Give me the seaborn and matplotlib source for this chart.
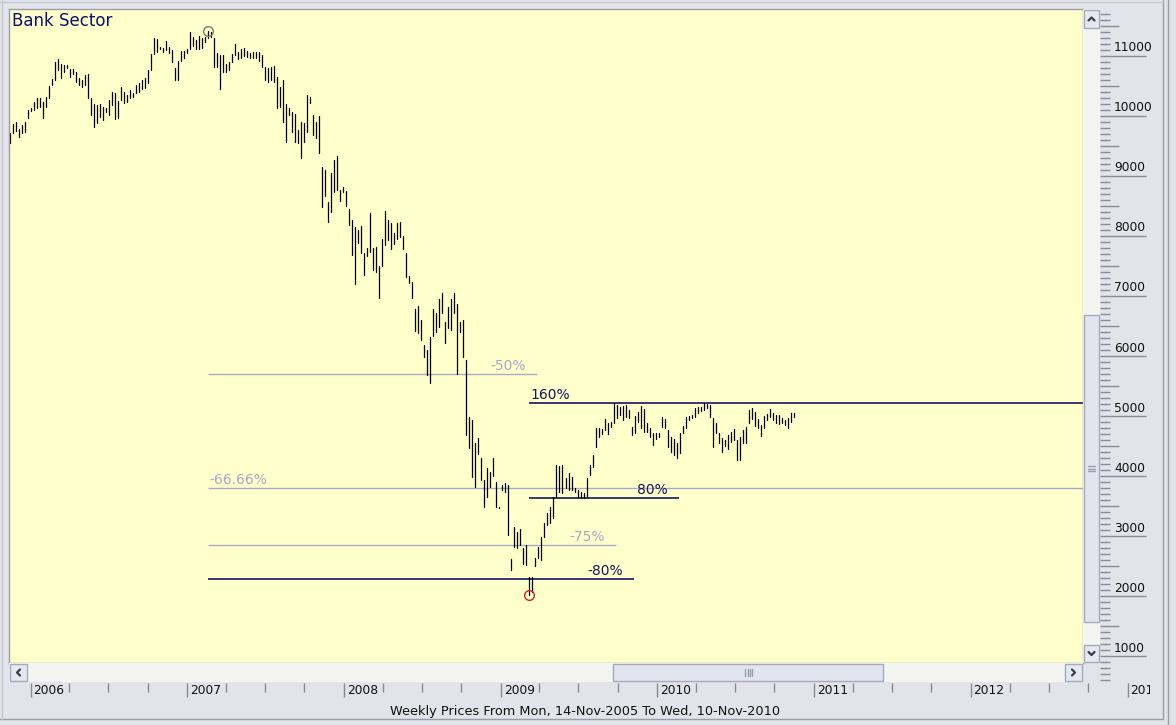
import numpy as np
import pandas as pd
import matplotlib
matplotlib.use("Agg")
import matplotlib.pyplot as plt
import matplotlib.dates as mdates
from matplotlib.patches import Rectangle
from matplotlib.lines import Line2D
import seaborn as sns

# weekly high / low of the bank sector index
highs = [
    9711, 9861, 9895, 9784, 9850, 9906, 10100, 10139, 10228, 10306,
    10306, 10239, 10323, 10500, 10617, 10895, 10950, 10861, 10850, 10850,
    10784, 10784, 10728, 10628, 10600, 10684, 10695, 10306, 10195, 10184,
    10195, 10156, 10139, 10267, 10395, 10378, 10250, 10478, 10406, 10350,
    10434, 10378, 10517, 10545, 10600, 10628, 10767, 11028, 11295, 11284,
    11156, 11139, 11250, 11156, 11100, 10795, 10917, 11084, 11084, 11117,
    11400, 11323, 11267, 11339, 11295, 11323, 11417, 11395, 11306, 11045,
    11017, 11017, 10861, 10906, 11028, 11195, 11073, 11117, 11128, 11084,
    11045, 11073, 11073, 11061, 11017, 10823, 10806, 10823, 10839, 10656,
    10489, 10600, 10195, 10139, 10073, 10028, 9767, 9895, 9878, 10350,
    10323, 10017, 9906, 10006, 9156, 9100, 8572, 9044, 9267, 9333,
    8767, 8811, 8756, 8444, 8267, 8144, 8100, 8167, 7711, 7794,
    8378, 7794, 7811, 7500, 7944, 8422, 8267, 8222, 8044, 8222,
    8239, 8000, 7711, 7333, 7239, 6778, 6833, 6600, 6183, 6100,
    6311, 6778, 6722, 6944, 7056, 6572, 6822, 6944, 7044, 6867,
    6572, 6600, 5933, 4989, 4933, 4544, 4628, 4294, 3933, 4128,
    4072, 4294, 3906, 3489, 3850, 3878, 3850, 2611, 3156, 3072,
    3111, 2794, 2850, 2322, 2322, 2628, 2822, 2989, 3222, 3378,
    3489, 3656, 4183, 4167, 4183, 3961, 4044, 3978, 3794, 3767,
    3739, 3711, 3961, 4183, 4350, 4794, 4794, 4778, 4944, 4878,
    4906, 5217, 5183, 5156, 5167, 5183, 5100, 4822, 5000, 5072,
    5167, 5111, 4878, 4794, 4711, 4722, 4711, 4989, 4944, 4767,
    4656, 4611, 4544, 4711, 4833, 4989, 5000, 5017, 5128, 5156,
    5156, 5217, 5200, 5183, 4961, 4878, 4711, 4628, 4600, 4683,
    4739, 4778, 4600, 4656, 4767, 4822, 5100, 5128, 5072, 4944,
    4850, 5000, 5033, 5111, 5044, 5017, 5017, 4961, 4933, 4961,
    5056, 5056,
]
lows = [
    9545, 9711, 9750, 9656, 9711, 9739, 9961, 10084, 10100, 10128,
    10156, 9961, 10156, 10295, 10517, 10600, 10767, 10639, 10739, 10806,
    10656, 10695, 10573, 10517, 10489, 10517, 10306, 10017, 9823, 9878,
    9989, 9934, 10061, 10017, 10184, 9950, 9961, 10267, 10211, 10228,
    10306, 10323, 10378, 10406, 10450, 10461, 10545, 10767, 11028, 11073,
    11117, 11073, 11100, 11045, 10906, 10600, 10600, 10917, 10961, 11045,
    11117, 11173, 11117, 11117, 11128, 11239, 11306, 11323, 10823, 10823,
    10450, 10739, 10728, 10767, 10895, 11017, 10950, 10961, 11006, 10989,
    10961, 10961, 10961, 10917, 10823, 10600, 10573, 10600, 10573, 10128,
    10156, 9906, 9573, 10017, 9739, 9561, 9545, 9306, 9573, 9739,
    10211, 9684, 9628, 9378, 8489, 8667, 8239, 8406, 8739, 8767,
    8589, 8739, 8500, 8183, 7683, 7200, 7878, 7722, 7350, 7667,
    7739, 7433, 7406, 6961, 7500, 7850, 7933, 7778, 7867, 7944,
    7989, 7778, 7322, 7211, 6961, 6422, 6378, 6267, 5989, 5683,
    5544, 6333, 6406, 6489, 6711, 6211, 6461, 6433, 6711, 5700,
    6406, 5989, 4683, 4461, 3989, 3822, 4367, 3933, 3489, 3656,
    3822, 4000, 3489, 3461, 3767, 3739, 3017, 2433, 2811, 2794,
    2850, 2533, 2517, 2020, 2060, 2500, 2628, 2600, 2989, 3183,
    3211, 3294, 3656, 3739, 3711, 3794, 3767, 3767, 3739, 3644,
    3628, 3628, 3656, 4017, 4156, 4489, 4656, 4700, 4767, 4700,
    4822, 4878, 4961, 5017, 4933, 4989, 4961, 4683, 4711, 4906,
    4794, 4739, 4739, 4656, 4517, 4611, 4656, 4822, 4794, 4489,
    4405, 4350, 4294, 4378, 4711, 4794, 4933, 4961, 4989, 5044,
    5089, 5100, 5128, 4978, 4489, 4711, 4544, 4406, 4500, 4444,
    4572, 4600, 4267, 4267, 4556, 4544, 4878, 4944, 4833, 4794,
    4667, 4794, 4933, 4989, 4933, 4878, 4867, 4878, 4850, 4794,
    4906, 4978,
]
first_week = "2005-11-14"

# retracement / extension levels drawn on the chart
level_labels = ["-50%", "-66.66%", "-75%", "-80%", "80%", "160%"]
level_values = [5708, 3806, 2854, 2283, 3633, 5217]
level_starts = ["2007-02-19", "2007-02-19", "2007-02-19", "2007-02-19", "2009-03-09", "2009-03-09"]
level_ends = ["2009-03-27", None, "2009-09-27", "2009-11-08", "2010-02-21", None]

price_ticks = list(range(1000, 12000, 1000))
years = list(range(2006, 2014))

title = "Bank Sector"
subtitle = "Weekly Prices From Mon, 14-Nov-2005 To Wed, 10-Nov-2010"

# ---- styling ----
W, H = 1176, 725
YELLOW = "#FFFFCC"
PANEL = "#E3E3EA"
EDGE = "#9C9CA8"
TICK = "#8A8A96"
LIGHT_LVL = "#A9A9CB"
DARK_LVL = "#15155C"
dark_levels = {"-80%", "80%", "160%"}
label_on_left = {"-66.66%", "160%"}

sns.set_theme(style="white")
plt.rcParams["font.family"] = ["DejaVu Sans"]

fig = plt.figure(figsize=(W / 100, H / 100), dpi=100, facecolor=PANEL)


def px_axes(x0, y0, x1, y1):
    return fig.add_axes([x0 / W, 1 - y1 / H, (x1 - x0) / W, (y1 - y0) / H])


def rect(x0, y0, x1, y1, fc, ec=None, lw=1):
    fig.patches.append(Rectangle((x0 / W, 1 - y1 / H), (x1 - x0) / W, (y1 - y0) / H,
                                 transform=fig.transFigure, fc=fc,
                                 ec=ec if ec else "none", lw=lw))


def fline(xs, ys, color, lw=1):
    fig.lines.append(Line2D([x / W for x in xs], [1 - y / H for y in ys],
                            transform=fig.transFigure, color=color, lw=lw))


def chevron(cx, cy, d):
    s = 3
    pts = {"up": ([cx - s, cx, cx + s], [cy + 1.5, cy - 1.5, cy + 1.5]),
           "down": ([cx - s, cx, cx + s], [cy - 1.5, cy + 1.5, cy - 1.5]),
           "left": ([cx + 1.5, cx - 1.5, cx + 1.5], [cy - s, cy, cy + s]),
           "right": ([cx - 1.5, cx + 1.5, cx - 1.5], [cy - s, cy, cy + s])}[d]
    fline(pts[0], pts[1], "#3C3C4C", lw=1.6)


dates = pd.date_range(first_week, periods=len(highs), freq="7D")
dnum = mdates.date2num(dates)
d0 = mdates.date2num(pd.Timestamp("2006-01-01"))
px_day = 0.42903          # horizontal scale of the chart
x_left = d0 - (30.5 - 9) / px_day

bars = pd.DataFrame({
    "week": np.repeat(np.arange(len(highs)), 2),
    "date": np.repeat(dnum, 2),
    "price": np.column_stack([highs, lows]).ravel(),
})

# ---- main price panel ----
ax = px_axes(9, 9, 1083, 663)
ax.set_facecolor(YELLOW)
sns.lineplot(data=bars, x="date", y="price", units="week", estimator=None,
             sort=False, color="black", linewidth=0.9, ax=ax, legend=False)
ax.set_xlim(x_left, d0 + (1083 - 30.5) / px_day)
ax.set_ylim(883, 11783)
ax.set_xticks([])
ax.set_yticks([])
ax.set_xlabel("")
ax.set_ylabel("")
for sp in ax.spines.values():
    sp.set_color(EDGE)
    sp.set_linewidth(1)

x_right = ax.get_xlim()[1]
for lab, val, st, en in zip(level_labels, level_values, level_starts, level_ends):
    xs = mdates.date2num(pd.Timestamp(st))
    xe = mdates.date2num(pd.Timestamp(en)) if en else x_right
    dark = lab in dark_levels
    col = DARK_LVL if dark else LIGHT_LVL
    ax.hlines(val, xs, xe, color=col, lw=1.2 if dark else 1.0, zorder=1)
    if lab in label_on_left:
        ax.annotate(lab, (xs, val), xytext=(1, 0.5), textcoords="offset points",
                    ha="left", va="bottom", fontsize=10, color=col)
    else:
        ax.annotate(lab, (xe, val), xytext=(-8, 0.5), textcoords="offset points",
                    ha="right", va="bottom", fontsize=10, color=col)

i_hi = int(np.argmax(highs))
i_lo = int(np.argmin(lows))
ax.plot(dnum[i_hi], highs[i_hi], "o", ms=7, mfc="none", mec="#7A7A7A", mew=1)
ax.plot(dnum[i_lo], lows[i_lo], "o", ms=7, mfc="none", mec="#CC2222", mew=1)

fig.text(12 / W, 1 - 21 / H, title, fontsize=12, color="#10106A", va="center", ha="left")

# ---- price scale on the right ----
ay = px_axes(1100, 9, 1163, 682)
ay.set_facecolor(PANEL)
ay.set_xlim(0, 63)
ay.set_ylim(567, 11783)
ay.axis("off")
for v in range(600, 11800, 100):
    length = 46 if v % 1000 == 0 else (19 if v % 500 == 0 else 10)
    ay.hlines(v, 0, length, color=TICK, lw=1)
for v in price_ticks:
    ay.text(14, v + 8 / 0.06, str(v), fontsize=8.8, va="center", ha="left", color="#111111")

# ---- date scale at the bottom ----
axx = px_axes(9, 682, 1150, 703)
axx.set_facecolor(PANEL)
axx.set_xlim(x_left, d0 + (1150 - 30.5) / px_day)
axx.set_ylim(21, 0)
axx.axis("off")
for y in years:
    xy = mdates.date2num(pd.Timestamp(f"{y}-01-01"))
    axx.vlines(xy, 1, 15, color=TICK, lw=1)
    axx.text(xy + 3 / px_day, 8.5, str(y), fontsize=8.8, va="center", ha="left",
             color="#111111", clip_on=True)
    for m in (4, 7, 10):
        xq = mdates.date2num(pd.Timestamp(f"{y}-{m:02d}-01"))
        axx.vlines(xq, 1, 10, color=TICK, lw=1)

fig.text(585 / W, 1 - 711 / H, subtitle, fontsize=9.3, ha="center", va="center", color="#111111")

# ---- scroll bars ----
TRACK, THUMB, SB_EDGE = "#F4F4F1", "#E2E4EE", "#A6AABE"
rect(1083, 9, 1100, 663, TRACK)
rect(1084, 315, 1099, 622, THUMB, SB_EDGE)
for gy in (466, 468.5, 471):
    fline([1088, 1095], [gy, gy], "#9A9EB0")
rect(1084, 10, 1099, 28, "#E6E8F0", SB_EDGE)
rect(1084, 645, 1099, 662, "#E6E8F0", SB_EDGE)
chevron(1091.5, 19, "up")
chevron(1091.5, 653.5, "down")

rect(9, 663, 1083, 682, TRACK)
rect(613, 664, 883, 681, THUMB, SB_EDGE)
for gx in (745, 747.5, 750, 752.5):
    fline([gx, gx], [669, 676], "#9A9EB0")
rect(10, 664, 27, 681, "#E6E8F0", SB_EDGE)
rect(1065, 664, 1082, 681, "#E6E8F0", SB_EDGE)
chevron(18.5, 672.5, "left")
chevron(1073.5, 672.5, "right")

# ---- window frame ----
fline([0, 1163], [719, 719], EDGE)
fline([1163, 1163], [0, 719], EDGE)
fline([1168, 1168], [0, 725], EDGE)
fline([2, 2], [0, 719], "#C8C8D2")
fline([0, 1163], [2, 2], "#C8C8D2")

fig.savefig("out.png", dpi=100, facecolor=fig.get_facecolor())
